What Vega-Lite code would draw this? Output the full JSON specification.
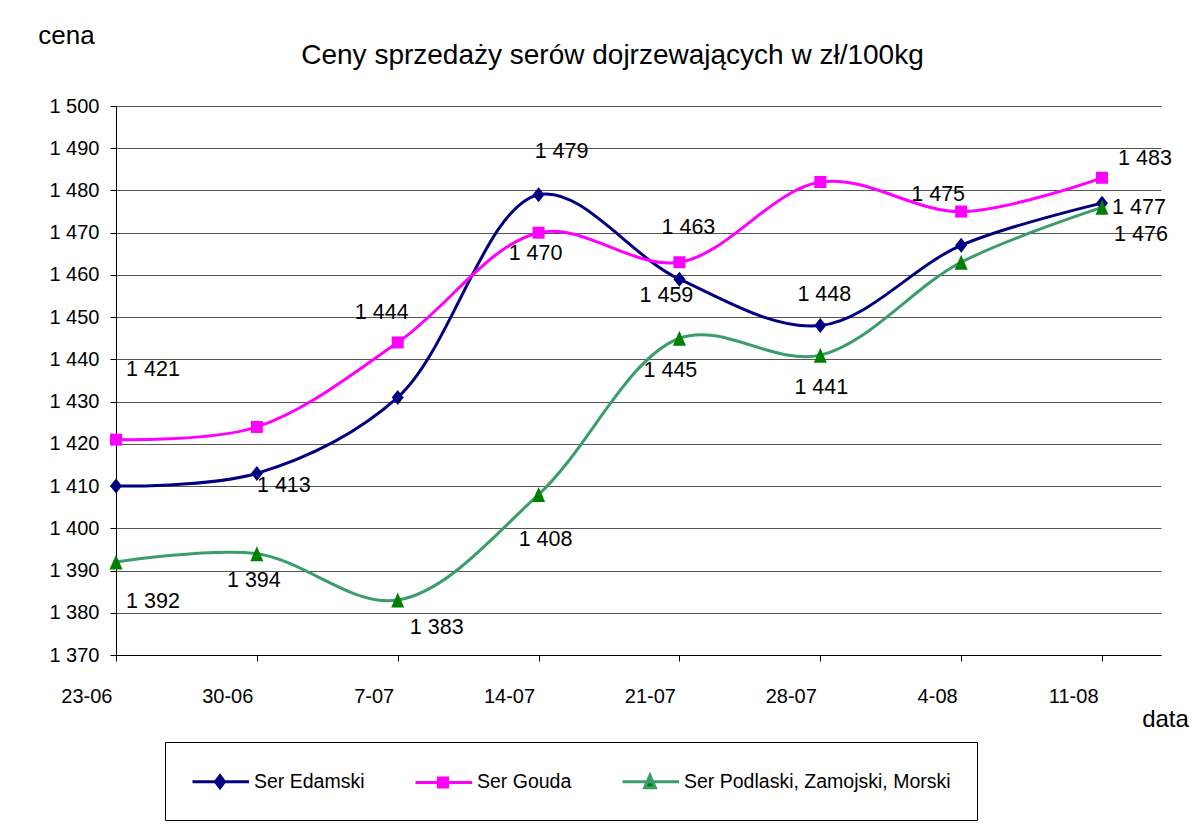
{
  "$schema": "https://vega.github.io/schema/vega-lite/v6.json",
  "width": 1045,
  "height": 549,
  "autosize": {"type": "none"},
  "padding": {"left": 116, "top": 106, "right": 39, "bottom": 178},
  "background": "white",
  "title": {"text": "Ceny sprzedaży serów dojrzewających w zł/100kg", "fontSize": 28, "font": "Liberation Sans", "fontWeight": "normal", "color": "#000", "anchor": "middle", "frame": "group", "dx": -26, "baseline": "alphabetic", "offset": -70},
  "data": {"values": [
    {"data": "23-06", "seria": "Ser Edamski", "cena": 1410},
    {"data": "30-06", "seria": "Ser Edamski", "cena": 1413},
    {"data": "7-07", "seria": "Ser Edamski", "cena": 1431},
    {"data": "14-07", "seria": "Ser Edamski", "cena": 1479},
    {"data": "21-07", "seria": "Ser Edamski", "cena": 1459},
    {"data": "28-07", "seria": "Ser Edamski", "cena": 1448},
    {"data": "4-08", "seria": "Ser Edamski", "cena": 1467},
    {"data": "11-08", "seria": "Ser Edamski", "cena": 1477},
    {"data": "23-06", "seria": "Ser Gouda", "cena": 1421},
    {"data": "30-06", "seria": "Ser Gouda", "cena": 1424},
    {"data": "7-07", "seria": "Ser Gouda", "cena": 1444},
    {"data": "14-07", "seria": "Ser Gouda", "cena": 1470},
    {"data": "21-07", "seria": "Ser Gouda", "cena": 1463},
    {"data": "28-07", "seria": "Ser Gouda", "cena": 1482},
    {"data": "4-08", "seria": "Ser Gouda", "cena": 1475},
    {"data": "11-08", "seria": "Ser Gouda", "cena": 1483},
    {"data": "23-06", "seria": "Ser Podlaski, Zamojski, Morski", "cena": 1392},
    {"data": "30-06", "seria": "Ser Podlaski, Zamojski, Morski", "cena": 1394},
    {"data": "7-07", "seria": "Ser Podlaski, Zamojski, Morski", "cena": 1383},
    {"data": "14-07", "seria": "Ser Podlaski, Zamojski, Morski", "cena": 1408},
    {"data": "21-07", "seria": "Ser Podlaski, Zamojski, Morski", "cena": 1445},
    {"data": "28-07", "seria": "Ser Podlaski, Zamojski, Morski", "cena": 1441},
    {"data": "4-08", "seria": "Ser Podlaski, Zamojski, Morski", "cena": 1463},
    {"data": "11-08", "seria": "Ser Podlaski, Zamojski, Morski", "cena": 1476}
  ]},
  "encoding": {
    "x": {"field": "data", "type": "ordinal",
      "scale": {"type": "point", "domain": ["23-06", "30-06", "7-07", "14-07", "21-07", "28-07", "4-08", "11-08"], "padding": 0.2094, "align": 0, "round": false},
      "axis": {"title": "data", "titleFontSize": 24, "titleFontWeight": "normal", "titleColor": "#000", "titleX": 1049, "titleY": 71, "titleAlign": "center", "titleBaseline": "alphabetic",
        "labelAngle": 0, "labelAlign": "right", "labelBaseline": "middle", "labelOffset": -4, "labelPadding": 35, "labelFontSize": 20, "labelColor": "#000",
        "tickSize": 6, "tickColor": "#000", "domainColor": "#000", "grid": false}},
    "y": {"field": "cena", "type": "quantitative",
      "scale": {"domain": [1370, 1500], "zero": false, "nice": false},
      "axis": {"title": "cena", "titleFontSize": 26, "titleFontWeight": "normal", "titleColor": "#000", "titleAngle": 0, "titleX": -50, "titleY": -63, "titleAlign": "center", "titleBaseline": "alphabetic",
        "values": [1370, 1380, 1390, 1400, 1410, 1420, 1430, 1440, 1450, 1460, 1470, 1480, 1490, 1500],
        "format": ",d", "labelFontSize": 20, "labelColor": "#000", "labelPadding": 11, "labelBaseline": "middle",
        "tickSize": 6, "tickColor": "#000", "domainColor": "#000", "grid": true, "gridColor": "#555555", "gridWidth": 1}}
  },
  "layer": [
    {"mark": {"type": "line", "interpolate": "catmull-rom", "strokeWidth": 3},
     "encoding": {"stroke": {"field": "seria", "type": "nominal",
        "scale": {"domain": ["Ser Edamski", "Ser Gouda", "Ser Podlaski, Zamojski, Morski"], "range": ["#000080", "#FF00FF", "#3A9D6C"]},
        "legend": {"title": null, "orient": "none", "legendX": 49, "legendY": 636, "direction": "horizontal", "columns": 3,
          "padding": 26, "strokeColor": "#000", "fillColor": "white", "columnPadding": 44,
          "labelFontSize": 19.5, "labelColor": "#000", "labelOffset": 36, "labelLimit": 0, "symbolSize": 576, "symbolStrokeWidth": 3,
          "encode": {"symbols": {"update": {
            "shape": {"signal": "datum.value === 'Ser Edamski' ? 'M-1,0H3.71M1.29,-0.5L1.67,0L1.29,0.5L0.91,0Z' : datum.value === 'Ser Gouda' ? 'M-1,0H3.71M0.91,-0.38H1.67V0.38H0.91Z' : 'M-1,0H3.71M1.29,-0.52L1.74,0.52L0.84,0.52Z'"},
            "fill": {"signal": "datum.value === 'Ser Edamski' ? '#000080' : datum.value === 'Ser Gouda' ? '#FF00FF' : '#008000'"},
            "stroke": {"signal": "datum.value === 'Ser Edamski' ? '#000080' : datum.value === 'Ser Gouda' ? '#FF00FF' : '#3A9D6C'"},
            "strokeWidth": {"value": 3},
            "size": {"value": 576},
            "opacity": {"value": 1}
          }}}}}}},
    {"transform": [{"filter": "datum.seria=='Ser Edamski'"}], "mark": {"type": "point", "shape": "M0,-1L0.8,0L0,1L-0.8,0Z", "filled": true, "color": "#000080", "opacity": 1, "size": 225, "strokeWidth": 0}},
    {"transform": [{"filter": "datum.seria=='Ser Gouda'"}], "mark": {"type": "point", "shape": "M-0.8,-0.8H0.8V0.8H-0.8Z", "filled": true, "color": "#FF00FF", "opacity": 1, "size": 225, "strokeWidth": 0}},
    {"transform": [{"filter": "datum.seria=='Ser Podlaski, Zamojski, Morski'"}], "mark": {"type": "point", "shape": "M0,-1L0.87,1L-0.87,1Z", "filled": true, "color": "#008000", "opacity": 1, "size": 225, "strokeWidth": 0}},
    {"transform": [{"filter": "datum.seria=='Ser Gouda'&&datum.data=='23-06'"}], "mark": {"type": "text", "dx": 37, "dy": -70, "fontSize": 21.5, "color": "#000"}, "encoding": {"text": {"field": "cena", "type": "quantitative", "format": ",d"}}},
    {"transform": [{"filter": "datum.seria=='Ser Podlaski, Zamojski, Morski'&&datum.data=='23-06'"}], "mark": {"type": "text", "dx": 37, "dy": 40, "fontSize": 21.5, "color": "#000"}, "encoding": {"text": {"field": "cena", "type": "quantitative", "format": ",d"}}},
    {"transform": [{"filter": "datum.seria=='Ser Podlaski, Zamojski, Morski'&&(datum.data=='7-07'||datum.data=='11-08')"}], "mark": {"type": "text", "dx": 39, "dy": 28, "fontSize": 21.5, "color": "#000"}, "encoding": {"text": {"field": "cena", "type": "quantitative", "format": ",d"}}},
    {"transform": [{"filter": "datum.seria=='Ser Edamski'&&datum.data=='30-06'"}], "mark": {"type": "text", "dx": 27, "dy": 13, "fontSize": 21.5, "color": "#000"}, "encoding": {"text": {"field": "cena", "type": "quantitative", "format": ",d"}}},
    {"transform": [{"filter": "datum.seria=='Ser Edamski'&&datum.data=='11-08'"}], "mark": {"type": "text", "dx": 37, "dy": 5, "fontSize": 21.5, "color": "#000"}, "encoding": {"text": {"field": "cena", "type": "quantitative", "format": ",d"}}},
    {"transform": [{"filter": "datum.seria=='Ser Podlaski, Zamojski, Morski'&&datum.data=='30-06'"}], "mark": {"type": "text", "dx": -3, "dy": 27, "fontSize": 21.5, "color": "#000"}, "encoding": {"text": {"field": "cena", "type": "quantitative", "format": ",d"}}},
    {"transform": [{"filter": "datum.seria=='Ser Podlaski, Zamojski, Morski'&&datum.data=='21-07'"}], "mark": {"type": "text", "dx": -9, "dy": 33, "fontSize": 21.5, "color": "#000"}, "encoding": {"text": {"field": "cena", "type": "quantitative", "format": ",d"}}},
    {"transform": [{"filter": "datum.seria=='Ser Podlaski, Zamojski, Morski'&&datum.data=='28-07'"}], "mark": {"type": "text", "dx": 1, "dy": 33, "fontSize": 21.5, "color": "#000"}, "encoding": {"text": {"field": "cena", "type": "quantitative", "format": ",d"}}},
    {"transform": [{"filter": "datum.seria=='Ser Gouda'&&datum.data=='14-07'"}], "mark": {"type": "text", "dx": -3, "dy": 21, "fontSize": 21.5, "color": "#000"}, "encoding": {"text": {"field": "cena", "type": "quantitative", "format": ",d"}}},
    {"transform": [{"filter": "datum.seria=='Ser Edamski'&&datum.data=='21-07'"}], "mark": {"type": "text", "dx": -13, "dy": 17, "fontSize": 21.5, "color": "#000"}, "encoding": {"text": {"field": "cena", "type": "quantitative", "format": ",d"}}},
    {"transform": [{"filter": "datum.seria=='Ser Podlaski, Zamojski, Morski'&&datum.data=='14-07'"}], "mark": {"type": "text", "dx": 7, "dy": 45, "fontSize": 21.5, "color": "#000"}, "encoding": {"text": {"field": "cena", "type": "quantitative", "format": ",d"}}},
    {"transform": [{"filter": "datum.seria=='Ser Gouda'&&datum.data=='7-07'"}], "mark": {"type": "text", "dx": -16, "dy": -29, "fontSize": 21.5, "color": "#000"}, "encoding": {"text": {"field": "cena", "type": "quantitative", "format": ",d"}}},
    {"transform": [{"filter": "datum.seria=='Ser Gouda'&&datum.data=='21-07'"}], "mark": {"type": "text", "dx": 9, "dy": -34, "fontSize": 21.5, "color": "#000"}, "encoding": {"text": {"field": "cena", "type": "quantitative", "format": ",d"}}},
    {"transform": [{"filter": "datum.seria=='Ser Edamski'&&datum.data=='28-07'"}], "mark": {"type": "text", "dx": 4, "dy": -31, "fontSize": 21.5, "color": "#000"}, "encoding": {"text": {"field": "cena", "type": "quantitative", "format": ",d"}}},
    {"transform": [{"filter": "datum.seria=='Ser Gouda'&&datum.data=='4-08'"}], "mark": {"type": "text", "dx": -23, "dy": -17, "fontSize": 21.5, "color": "#000"}, "encoding": {"text": {"field": "cena", "type": "quantitative", "format": ",d"}}},
    {"transform": [{"filter": "datum.seria=='Ser Edamski'&&datum.data=='14-07'"}], "mark": {"type": "text", "dx": 23, "dy": -43, "fontSize": 21.5, "color": "#000"}, "encoding": {"text": {"field": "cena", "type": "quantitative", "format": ",d"}}},
    {"transform": [{"filter": "datum.seria=='Ser Gouda'&&datum.data=='11-08'"}], "mark": {"type": "text", "dx": 43, "dy": -19, "fontSize": 21.5, "color": "#000"}, "encoding": {"text": {"field": "cena", "type": "quantitative", "format": ",d"}}}
  ],
  "config": {
    "font": "Liberation Sans",
    "view": {"stroke": null},
    "text": {"align": "center", "baseline": "middle"},
    "locale": {"number": {"decimal": ",", "thousands": " ", "grouping": [3], "currency": ["", " zł"]}}
  }
}
